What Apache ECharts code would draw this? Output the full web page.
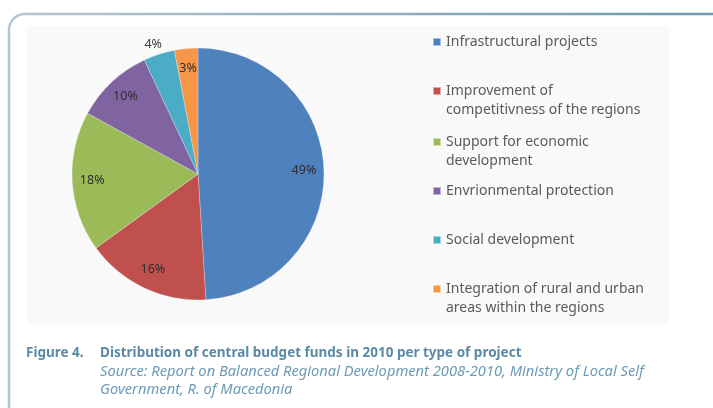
<!DOCTYPE html>
<html>
<head>
<meta charset="utf-8">
<script src="https://cdn.jsdelivr.net/npm/echarts@6/dist/echarts.min.js"></script>
<style>
html,body{margin:0;padding:0;background:#fff;}
#chart{width:713px;height:408px;}
</style>
</head>
<body>
<div id="chart"></div>
<script>
const categories = [
  'Infrastructural projects',
  'Improvement of\ncompetitivness of the regions',
  'Support for economic\ndevelopment',
  'Envrionmental protection',
  'Social development',
  'Integration of rural and urban\nareas within the regions'
];
const values = [49, 16, 18, 10, 4, 3];
const colors = ['#4f81bd', '#c0504d', '#9bbb59', '#8064a2', '#4bacc6', '#f79646'];
const figureLabel = 'Figure 4.';
const captionTitle = 'Distribution of central budget funds in 2010 per type of project';
const captionSource = 'Source: Report on Balanced Regional Development 2008-2010, Ministry of Local Self\nGovernment, R. of Macedonia';

const FONT = '"Noto Sans", sans-serif';
const chart = echarts.init(document.getElementById('chart'), null, {renderer: 'canvas'});

const legendIconY = [42, 91, 142, 191, 240, 289];
const LH = 19;
const legends = categories.map((name, i) => {
  const twoLine = name.split('\n').length > 1;
  const h = twoLine ? (LH * 3) : LH;
  return {
    data: [name],
    orient: 'vertical',
    left: 432,
    top: legendIconY[i] - h / 2,
    padding: 0,
    itemWidth: 8,
    itemHeight: 8,
    itemGap: 0,
    icon: 'rect',
    selectedMode: false,
    formatter: (n) => twoLine ? '\n' + n : n,
    textStyle: {
      color: '#5a5a5a',
      fontFamily: FONT,
      fontSize: 14,
      lineHeight: LH
    }
  };
});

const pieData = categories.map((n, i) => ({
  name: n, value: values[i], itemStyle: {color: colors[i]}
}));
const labelData = categories.map((n, i) => {
  const d = {name: n, value: values[i]};
  if (i === 4) {
    d.label = {position: 'outside', color: '#404040', distanceToLabelLine: -6};
    d.labelLine = {show: false, length: 10, length2: 0};
  }
  return d;
});

chart.setOption({
  animation: false,
  backgroundColor: '#ffffff',
  graphic: [
    {type: 'rect', z: -10, silent: true, shape: {x: 27, y: 26, width: 642, height: 299},
     style: {fill: '#f9f9f9'}},
    {type: 'rect', z: -5, silent: true,
     shape: {x: 9, y: 14, width: 900, height: 600, r: 16},
     style: {fill: null, lineWidth: 2.5,
       stroke: new echarts.graphic.LinearGradient(0, 0, 0.8, 0, [
         {offset: 0, color: '#b5c7d3'}, {offset: 1, color: '#6d95ad'}])}}
  ],
  title: [
    {text: figureLabel, left: 26, top: 346, padding: 0,
     textStyle: {fontFamily: FONT, fontSize: 13.5, fontWeight: 'bold', color: '#5a8aa5'}},
    {text: captionTitle, subtext: captionSource, left: 100, top: 346, padding: 0, itemGap: 3,
     textStyle: {fontFamily: FONT, fontSize: 13.5, fontWeight: 'bold', color: '#5a8aa5'},
     subtextStyle: {fontFamily: FONT, fontSize: 14.7, fontStyle: 'italic', color: '#6b9bb5', lineHeight: 18}}
  ],
  legend: legends,
  series: [
    {
      type: 'pie',
      center: [198, 174],
      radius: [0, 126],
      startAngle: 90,
      clockwise: true,
      silent: true,
      label: {show: false},
      labelLine: {show: false},
      itemStyle: {borderColor: 'rgba(255,255,255,0.5)', borderWidth: 0.5},
      data: pieData
    },
    {
      type: 'pie',
      center: [198, 174],
      radius: [80, 126],
      startAngle: 90,
      clockwise: true,
      silent: true,
      avoidLabelOverlap: false,
      itemStyle: {color: 'rgba(0,0,0,0)'},
      label: {show: true, position: 'inside', formatter: '{c}%',
        color: '#2e2e2e', fontFamily: FONT, fontSize: 12.5},
      labelLine: {show: false},
      data: labelData
    }
  ]
});
</script>
</body>
</html>
